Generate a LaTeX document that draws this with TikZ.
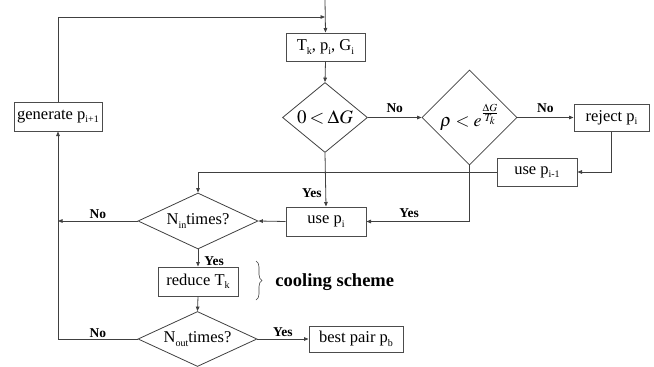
\documentclass[tikz,border=0pt]{standalone}
\usepackage{mathptmx}
\usepackage{fontspec}
\setmainfont{Liberation Serif}
\usetikzlibrary{shapes.geometric,arrows.meta,decorations.pathreplacing}
\newcommand\mysb[1]{\raisebox{-0.45ex}{\fontsize{10}{10}\selectfont #1}}
\begin{document}
\begin{tikzpicture}[x=1pt,y=-1pt,
  line width=0.8pt, draw={black!75},
  arr/.style={-{Triangle[length=4.5pt,width=3.6pt]}},
  box/.style={draw={black!70}, line width=1pt, inner sep=0pt, font=\fontsize{16.5}{18}\selectfont},
  dia/.style={diamond, draw={black!75}, line width=0.8pt, inner sep=0pt},
  dtxt/.style={font=\fontsize{16.5}{18}\selectfont},
  lab/.style={font=\bfseries\fontsize{13.5}{15}\selectfont, inner sep=0pt}]
\useasboundingbox (0,0) rectangle (654,367);

\node[box, minimum width=79pt, minimum height=28pt] (tk) at (325.5,47) {T\mysb{k}, p\mysb{i}, G\mysb{i}};
\node[dia, minimum width=85pt, minimum height=70pt, label={[font=\fontsize{19}{21}\selectfont]center:$0\mskip-1mu<\mskip-1mu\Delta G$}] (d1) at (325,117.5) {};
\node[dia, minimum width=95pt, minimum height=95pt, label={[font=\fontsize{18}{20}\selectfont]center:$\rho<e^{\raisebox{2pt}{$\scriptstyle\frac{\Delta G}{T_k}$}}$}] (d2) at (469.5,117.5) {};
\node[box, minimum width=75pt, minimum height=27pt] (rej) at (611.5,117.5) {reject p\mysb{i}};
\node[box, minimum width=80pt, minimum height=28pt] (usem) at (537,172) {use p\mysb{i-1}};
\node[box, minimum width=80pt, minimum height=29pt] (usep) at (326,221.5) {use p\mysb{i}};
\node[dia, minimum width=120pt, minimum height=56pt, label={[dtxt]center:N\mysb{in}times?}] (nin) at (198,221) {};
\node[box, minimum width=80pt, minimum height=29pt] (red) at (198,281.5) {reduce T\mysb{k}};
\node[dia, minimum width=119pt, minimum height=55pt, label={[dtxt]center:N\mysb{out}times?}] (nout) at (197.5,339) {};
\node[box, minimum width=94pt, minimum height=26pt] (best) at (356,339) {best pair p\mysb{b}};
\node[box, minimum width=88pt, minimum height=29pt] (gen) at (58,116.5) {generate p\mysb{i+1}};
\node[font=\bfseries\fontsize{18.5}{20}\selectfont, anchor=west, inner sep=0pt] (cool) at (275,282) {cooling scheme};

\coordinate (topin) at (325,0);
\coordinate (join) at (325,17);
\coordinate (lj) at (58,221);
\coordinate (bl) at (58,339);

\draw[arr] (topin) -- (tk.north);
\draw[arr] (gen.north) |- (join);
\draw[arr] (tk.south) -- (d1.north);
\draw[arr] (d1.east) -- node[lab, above=4pt] {No} (d2.west);
\draw[arr] (d2.east) -- node[lab, above=4pt] {No} (rej.west);
\draw[arr] (rej.south) |- (usem.east);
\draw[arr] (usem.west) -| (nin.north);
\draw[arr] (d1.south) -- (usep.north);
\node[lab, anchor=east] at (322,193) {Yes};
\draw[arr] (d2.south) |- (usep.east);
\node[lab] at (409,213) {Yes};
\draw[arr] (usep.west) -- (nin.east);
\draw[arr] (nin.west) -- node[lab, above=2pt] {No} (lj);
\draw[arr] (nin.south) -- (red.north);
\node[lab, anchor=west] at (204,261) {Yes};
\draw[arr] (red.south) -- (nout.north);
\draw[arr] (nout.west) -- node[lab, above=1pt] {No} (bl) -- (gen.south);
\draw[arr] (nout.east) -- node[lab, above=2pt] {Yes} (best.west);
\draw[line width=0.6pt, decorate, decoration={brace, amplitude=6pt}] (256,261) -- (256,300);
\end{tikzpicture}
\end{document}
